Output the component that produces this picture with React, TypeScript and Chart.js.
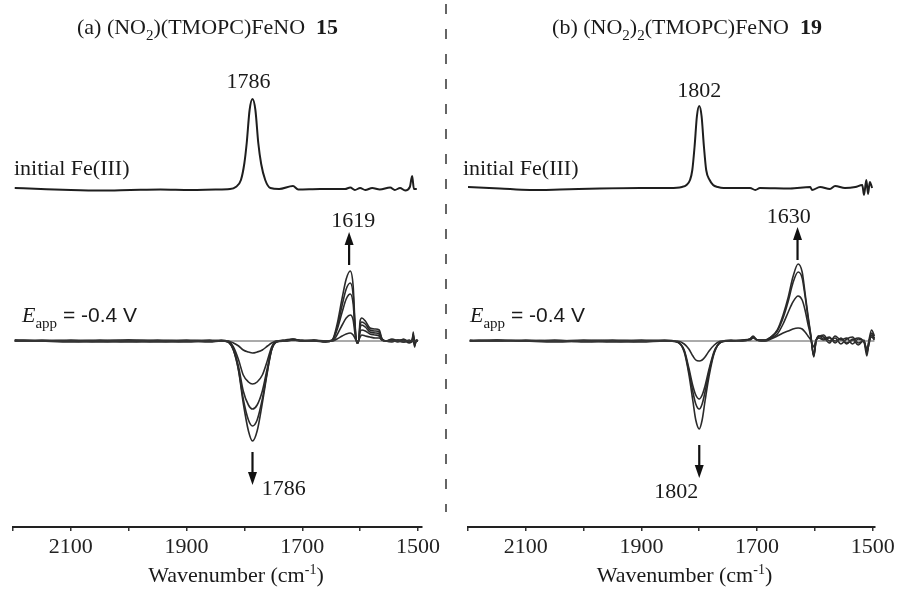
import React, { useEffect, useRef } from "react";
import { Chart, registerables } from "chart.js";

Chart.register(...registerables);

const SERIF = '"Liberation Serif", "Times New Roman", serif';
const SANS = '"Liberation Sans", Arial, sans-serif';

// ---------- axis ticks ----------
const TICK_VALUES = [2200, 2100, 2000, 1900, 1800, 1700, 1600, 1500];
const TICK_LABELS = ["", "2100", "", "1900", "", "1700", "", "1500"];

// ---------- panel (a) : (NO2)(TMOPC)FeNO 15 ----------
const A_INIT_WN = [2197, 2152, 2100, 2048, 1997, 1945, 1893, 1850, 1825, 1815, 1806, 1800, 1796, 1791, 1786, 1781, 1776, 1771, 1764, 1755, 1740, 1716, 1707, 1669, 1626, 1617, 1609, 1600, 1591, 1579, 1566, 1548, 1540, 1531, 1522, 1514, 1510, 1507, 1502];
const A_INIT_ABS = [2, 1, 0, -0.5, 0, 0.5, 0, 0.5, 1, 3, 10, 27, 47, 80, 91, 80, 47, 26, 10, 2, 1, 4, 0.5, 1, 1, 2.5, 0, 2, 0, 2, 0.5, 2.5, 0, 2, -0.5, 3, 14, 1, 1];
const A_INIT_OFFSET = 151;

const A_DIFF_WN = [2197, 2150, 2100, 2050, 2000, 1950, 1900, 1860, 1840, 1828, 1819, 1810, 1802, 1793, 1786, 1778, 1769, 1760, 1753, 1745, 1730, 1716, 1700, 1680, 1660, 1648, 1640, 1631, 1624, 1617, 1612, 1609, 1606, 1603, 1600, 1597, 1591, 1583, 1574, 1567, 1562, 1555, 1545, 1535, 1525, 1515, 1510, 1508, 1506, 1503, 1500];
const A_DIFF_1 = [0, 0, 0, 0, 1, 0, 0, -1, 0, 0, -2, -5, -9, -11, -12, -11, -9, -5, -2, 0, 0, 1, 0, 0, 0, 0, 2, 5, 7, 8, 6, 3, 0, 0, 4, 6, 5, 4, 3, 3, 1, 0, 1, 0, 1, -1, 0, 4, -2, 0, 0];
const A_DIFF_2 = [1, 0, 0, 1, 0, -1, 0, 1, 0, 0, -6, -19, -34, -41, -43, -41, -34, -19, -6, 0, 0, 1, 0, 1, 0, 0, 6, 16, 23, 26, 21, 8, 0, -1, 9, 11, 10, 7, 6, 5, 1, 0, 0, 1, -1, 0, 1, 5, -3, 0, 0];
const A_DIFF_3 = [0, 0, 1, 0, -1, 0, 1, 0, 0, -1, -8, -26, -50, -64, -68, -64, -50, -26, -8, -1, 0, 1, 1, 0, 0, 1, 11, 29, 42, 47, 37, 14, -1, -1, 13, 16, 14, 9, 8, 7, 1, 0, 2, 0, -1, 1, -1, 6, -4, 1, 0];
const A_DIFF_4 = [0, 1, 0, -1, 0, 1, 0, 0, 1, -1, -9, -29, -58, -79, -85, -79, -58, -29, -9, -1, 1, 2, 0, 0, -1, 1, 13, 36, 52, 58, 46, 17, -2, -2, 16, 19, 17, 11, 10, 9, 2, 0, -1, 1, 1, -2, 1, 7, -5, 0, 1];
const A_DIFF_5 = [1, 0, -1, 0, 1, 0, -1, 0, 0, -1, -9, -30, -62, -90, -100, -90, -62, -30, -9, -1, 0, 2, 0, 1, -1, 1, 16, 43, 62, 70, 55, 20, -2, -2, 20, 23, 20, 13, 12, 11, 2, 0, 1, -1, 2, -1, 0, 9, -6, 1, 0];
const A_ZERO_WN = [2197, 1500];
const A_ZERO = [0, 0];

// ---------- panel (b) : (NO2)2(TMOPC)FeNO 19 ----------
const B_INIT_WN = [2200, 2145, 2093, 2041, 1972, 1902, 1851, 1830, 1822, 1816, 1812, 1808, 1804, 1800, 1796, 1792, 1788, 1782, 1776, 1768, 1758, 1712, 1703, 1695, 1643, 1608, 1605, 1591, 1574, 1565, 1548, 1530, 1518, 1515, 1511, 1508, 1505, 1501];
const B_INIT_ABS = [1, -0.5, -2, -1.5, -0.5, 0, 0, 1, 3, 8, 18, 42, 72, 82, 72, 42, 18, 8, 3, 1, 0, 0, -2, 0, -0.5, 1, -2, 1, -1, 2, 0, 1, 3, -7, 8, -6, 6, 0];
const B_INIT_OFFSET = 153;

const B_DIFF_WN = [2197, 2150, 2100, 2050, 2000, 1950, 1900, 1860, 1838, 1826, 1818, 1811, 1806, 1800, 1795, 1790, 1783, 1774, 1762, 1745, 1725, 1712, 1707, 1700, 1693, 1686, 1676, 1665, 1655, 1646, 1638, 1629, 1622, 1617, 1612, 1607, 1602, 1598, 1593, 1585, 1575, 1565, 1555, 1545, 1535, 1525, 1515, 1510, 1506, 1502, 1497];
const B_DIFF_1 = [0, 1, 0, 0, 1, 0, -1, 0, 0, -3, -8, -15, -19, -20, -19, -16, -10, -4, 0, 0, 1, 1, 3, 1, 0, 0, 2, 5, 8, 10, 12, 13, 12, 9, 5, 1, -6, 1, 3, 1, 3, 0, 2, -2, 1, 3, -1, -8, 1, 4, 1];
const B_DIFF_2 = [0, 0, 1, 0, 0, -1, 0, 1, -1, -9, -27, -45, -54, -58, -54, -45, -28, -10, -1, 1, 0, 2, 4, 1, 0, 0, 3, 7, 17, 29, 39, 45, 41, 31, 17, 4, -14, 0, 4, 6, 0, 3, -3, 2, 4, -2, 0, -10, -2, 6, 2];
const B_DIFF_3 = [1, 0, 0, 1, -1, 0, 1, 0, -1, -10, -30, -51, -63, -68, -63, -51, -31, -11, -1, 0, 0, 2, 4, 1, 1, 1, 4, 10, 23, 40, 58, 69, 63, 45, 24, 5, -15, 0, 5, 2, 4, -2, 3, -3, 2, -4, 1, -12, 0, 8, 3];
const B_DIFF_4 = [0, 1, 0, -1, 0, 1, 0, 0, -1, -11, -33, -60, -79, -88, -79, -60, -35, -12, -1, 0, 1, 2, 5, 1, 1, 1, 4, 11, 26, 44, 64, 77, 69, 48, 26, 6, -16, 0, 5, 4, -2, 5, 1, 3, -3, 2, -1, -15, 2, 11, 5];
const B_ZERO_WN = [2197, 1497];
const B_ZERO = [0, 0];

// ---------- helpers ----------
type Seg = { t: string; font: string; dy?: number };

function drawRich(ctx: CanvasRenderingContext2D, segs: Seg[], x: number, y: number, align: "left" | "center") {
  const widths = segs.map((s) => {
    ctx.font = s.font;
    return ctx.measureText(s.t).width;
  });
  const total = widths.reduce((a, b) => a + b, 0);
  let cx = align === "center" ? x - total / 2 : x;
  ctx.textAlign = "left";
  ctx.textBaseline = "alphabetic";
  segs.forEach((s, i) => {
    ctx.font = s.font;
    ctx.fillText(s.t, cx, y + (s.dy || 0));
    cx += widths[i];
  });
}

function drawArrow(ctx: CanvasRenderingContext2D, x: number, y0: number, y1: number) {
  const dir = Math.sign(y1 - y0);
  const headLen = 13;
  const headHalf = 4.5;
  ctx.beginPath();
  ctx.moveTo(x, y0);
  ctx.lineTo(x, y1 - dir * headLen * 0.7);
  ctx.lineWidth = 2.2;
  ctx.strokeStyle = "#111";
  ctx.stroke();
  ctx.beginPath();
  ctx.moveTo(x, y1);
  ctx.lineTo(x - headHalf, y1 - dir * headLen);
  ctx.lineTo(x + headHalf, y1 - dir * headLen);
  ctx.closePath();
  ctx.fillStyle = "#111";
  ctx.fill();
}

const F = `22px ${SERIF}`;

interface PanelCfg {
  width: number;
  left: number;
  padL: number;
  padR: number;
  xMin: number;
  initWn: number[];
  initAbs: number[];
  initOffset: number;
  diffWn: number[];
  diffs: number[][];
  zeroWn: number[];
  zero: number[];
  title: Seg[];
  titleX: number;
  axisTitleX: number;
  initTextX: number;
  eX: number;
  topLabel: { t: string; wn: number; v: number };
  upLabel: { t: string; wn: number; v: number };
  downLabel: { t: string; wn: number; v: number };
  upArrow: { wn: number; from: number; to: number };
  downArrow: { wn: number; from: number; to: number };
  divider: boolean;
}

const PANEL_A: PanelCfg = {
  width: 447,
  left: 0,
  padL: 13,
  padR: 25,
  xMin: 1493,
  initWn: A_INIT_WN,
  initAbs: A_INIT_ABS,
  initOffset: A_INIT_OFFSET,
  diffWn: A_DIFF_WN,
  diffs: [A_DIFF_1, A_DIFF_2, A_DIFF_3, A_DIFF_4, A_DIFF_5],
  zeroWn: A_ZERO_WN,
  zero: A_ZERO,
  title: [
    { t: "(a) (NO", font: F },
    { t: "2", font: `15px ${SERIF}`, dy: 6 },
    { t: ")(TMOPC)FeNO  ", font: F },
    { t: "15", font: `bold 22px ${SERIF}` },
  ],
  titleX: 207.5,
  axisTitleX: 236,
  initTextX: 14,
  eX: 22,
  topLabel: { t: "1786", wn: 1793, v: 253 },
  upLabel: { t: "1619", wn: 1612, v: 114 },
  downLabel: { t: "1786", wn: 1732, v: -154 },
  upArrow: { wn: 1619, from: 76, to: 109 },
  downArrow: { wn: 1786, from: -111, to: -144 },
  divider: true,
};

const PANEL_B: PanelCfg = {
  width: 454,
  left: 447,
  padL: 21,
  padR: 26,
  xMin: 1496,
  initWn: B_INIT_WN,
  initAbs: B_INIT_ABS,
  initOffset: B_INIT_OFFSET,
  diffWn: B_DIFF_WN,
  diffs: [B_DIFF_1, B_DIFF_2, B_DIFF_3, B_DIFF_4],
  zeroWn: B_ZERO_WN,
  zero: B_ZERO,
  title: [
    { t: "(b) (NO", font: F },
    { t: "2", font: `15px ${SERIF}`, dy: 6 },
    { t: ")", font: F },
    { t: "2", font: `15px ${SERIF}`, dy: 6 },
    { t: "(TMOPC)FeNO  ", font: F },
    { t: "19", font: `bold 22px ${SERIF}` },
  ],
  titleX: 240,
  axisTitleX: 237.5,
  initTextX: 16,
  eX: 23,
  topLabel: { t: "1802", wn: 1800, v: 244 },
  upLabel: { t: "1630", wn: 1645, v: 118 },
  downLabel: { t: "1802", wn: 1840, v: -157 },
  upArrow: { wn: 1630, from: 81, to: 114 },
  downArrow: { wn: 1800, from: -104, to: -137 },
  divider: false,
};

function Panel({ cfg }: { cfg: PanelCfg }) {
  const ref = useRef<HTMLCanvasElement>(null);

  useEffect(() => {
    const canvas = ref.current;
    if (!canvas) return;

    const datasets: any[] = [];
    datasets.push({
      data: cfg.zeroWn.map((x, i) => ({ x, y: cfg.zero[i] })),
      borderColor: "#444",
      borderWidth: 0.9,
    });
    cfg.diffs.forEach((arr) => {
      datasets.push({
        data: cfg.diffWn.map((x, i) => ({ x, y: arr[i] })),
        borderColor: "#2a2a2a",
        borderWidth: 1.6,
      });
    });
    datasets.push({
      data: cfg.initWn.map((x, i) => ({ x, y: cfg.initAbs[i] + cfg.initOffset })),
      borderColor: "#1e1e1e",
      borderWidth: 2,
    });

    const annot = {
      id: "annot",
      afterDraw(chart: any) {
        const ctx: CanvasRenderingContext2D = chart.ctx;
        const xs = chart.scales.x;
        const ys = chart.scales.y;
        ctx.save();
        ctx.fillStyle = "#1a1a1a";
        drawRich(ctx, cfg.title, cfg.titleX, 34, "center");
        drawRich(ctx, [{ t: "initial Fe(III)", font: F }], cfg.initTextX, 175, "left");
        drawRich(
          ctx,
          [
            { t: "E", font: `italic 22px ${SERIF}` },
            { t: "app", font: `15px ${SERIF}`, dy: 6 },
            { t: " = -0.4 V", font: `21px ${SANS}` },
          ],
          cfg.eX,
          322,
          "left"
        );
        [cfg.topLabel, cfg.upLabel, cfg.downLabel].forEach((l) => {
          drawRich(ctx, [{ t: l.t, font: F }], xs.getPixelForValue(l.wn), ys.getPixelForValue(l.v), "center");
        });
        [cfg.upArrow, cfg.downArrow].forEach((a) => {
          drawArrow(ctx, xs.getPixelForValue(a.wn), ys.getPixelForValue(a.from), ys.getPixelForValue(a.to));
        });
        ctx.fillStyle = "#1a1a1a";
        drawRich(
          ctx,
          [
            { t: "Wavenumber (cm", font: F },
            { t: "-1", font: `14px ${SERIF}`, dy: -8 },
            { t: ")", font: F },
          ],
          cfg.axisTitleX,
          582,
          "center"
        );
        if (cfg.divider) {
          ctx.beginPath();
          ctx.setLineDash([10, 15]);
          ctx.moveTo(446, 4);
          ctx.lineTo(446, 512);
          ctx.lineWidth = 1.5;
          ctx.strokeStyle = "#333";
          ctx.stroke();
          ctx.setLineDash([]);
        }
        ctx.restore();
      },
    };

    const chart = new Chart(canvas, {
      type: "line",
      data: { datasets },
      options: {
        responsive: false,
        animation: false,
        events: [],
        layout: { padding: { left: cfg.padL, right: cfg.padR, top: 0, bottom: 25.6 } },
        plugins: {
          legend: { display: false },
          tooltip: { enabled: false },
          title: { display: false },
        },
        elements: {
          point: { radius: 0 },
          line: { cubicInterpolationMode: "monotone", fill: false },
        },
        scales: {
          x: {
            type: "linear",
            reverse: true,
            min: cfg.xMin,
            max: 2200,
            afterBuildTicks: (s: any) => {
              s.ticks = TICK_VALUES.map((v) => ({ value: v }));
            },
            ticks: {
              callback: (v: any) => {
                const i = TICK_VALUES.indexOf(Number(v));
                return i >= 0 ? TICK_LABELS[i] : "";
              },
              font: { family: SERIF, size: 22 },
              color: "#222",
              padding: 3,
              maxRotation: 0,
              autoSkip: false,
            },
            grid: {
              display: true,
              drawOnChartArea: false,
              drawTicks: true,
              tickLength: 4,
              color: "#333",
              lineWidth: 1.5,
            },
            border: { display: true, color: "#222", width: 2 },
            title: { display: false },
          },
          y: { display: false, min: -186, max: 341 },
        },
      } as any,
      plugins: [annot],
    });

    return () => chart.destroy();
  }, [cfg]);

  return (
    <canvas
      ref={ref}
      width={cfg.width}
      height={589}
      style={{ position: "absolute", left: cfg.left, top: 0, width: cfg.width, height: 589 }}
    />
  );
}

export default function App() {
  return (
    <div style={{ position: "fixed", left: 0, top: 0, width: 901, height: 589, background: "#fff", overflow: "hidden" }}>
      <Panel cfg={PANEL_A} />
      <Panel cfg={PANEL_B} />
    </div>
  );
}
